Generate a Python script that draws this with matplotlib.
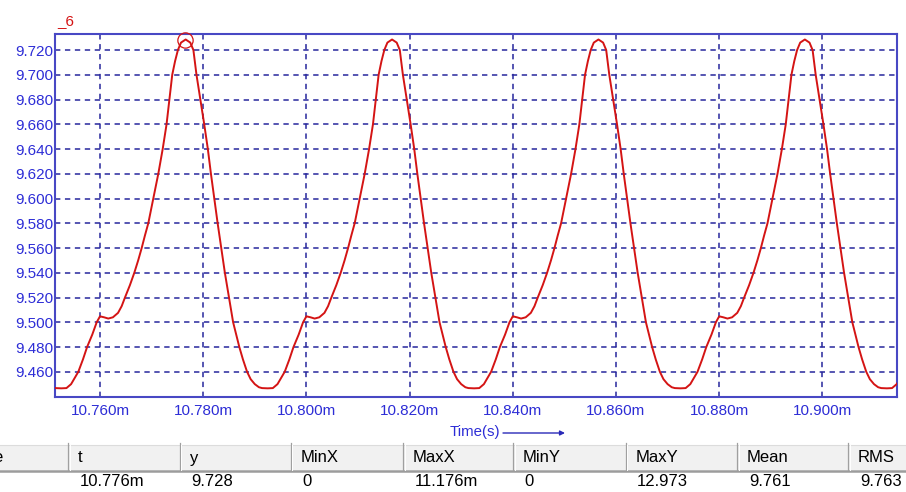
import numpy as np
import matplotlib.pyplot as plt
from matplotlib.patches import Rectangle

# one period of the trace, phase in us from the small shoulder
phase_us = [-8.6, -7.5, -6.5, -5.6, -4.9, -4.2, -3.3, -2.5, -1.5, -0.64,
            0.0, 0.8, 1.6, 2.5, 3.5, 4.2, 4.84, 5.8, 6.65, 7.4,
            8.08, 8.7, 9.36, 10.33, 11.30, 12.15, 12.9, 13.45, 14.0, 14.55,
            15.1, 15.7, 16.6, 17.5, 18.1, 18.7, 19.45, 20.2, 20.9, 21.5,
            22.15, 22.8, 23.5, 24.2, 25.0, 25.8, 26.4, 27.0, 27.7, 28.5,
            29.2, 30.0, 30.8]
phase_val = [9.4468, 9.4466, 9.4468, 9.450, 9.455, 9.460, 9.470, 9.480, 9.490, 9.500,
             9.5048, 9.504, 9.503, 9.504, 9.5076, 9.513, 9.520, 9.530, 9.540, 9.550,
             9.560, 9.570, 9.580, 9.600, 9.620, 9.640, 9.660, 9.680, 9.700, 9.711,
             9.720, 9.726, 9.7285, 9.726, 9.720, 9.700, 9.680, 9.660, 9.640, 9.620,
             9.600, 9.580, 9.560, 9.540, 9.520, 9.500, 9.490, 9.480, 9.470, 9.460,
             9.454, 9.450, 9.4475]
# shoulder times of each period (ms)
shoulder_ms = [10.720, 10.760, 10.800, 10.840, 10.880, 10.920]

cursor_t = 10.7765
cursor_y = 9.728
trace_name = "_6"

y_ticks = [9.460, 9.480, 9.500, 9.520, 9.540, 9.560, 9.580, 9.600, 9.620,
           9.640, 9.660, 9.680, 9.700, 9.720]
x_ticks = [10.760, 10.780, 10.800, 10.820, 10.840, 10.860, 10.880, 10.900]

table_head = ["t", "y", "MinX", "MaxX", "MinY", "MaxY", "Mean", "RMS"]
table_vals = ["10.776m", "9.728", "0", "11.176m", "0", "12.973", "9.761", "9.763"]

W, H = 906, 492
blue_txt = '#2d2dd6'
blue_ax = '#4848c4'
blue_grid = '#27279c'
red = '#d41414'

t = np.concatenate([s + np.array(phase_us) / 1000.0 for s in shoulder_ms])
v = np.concatenate([np.array(phase_val) for s in shoulder_ms])

plt.rcParams['font.family'] = ['Liberation Sans', 'DejaVu Sans']
fig = plt.figure(figsize=(W / 100, H / 100), dpi=100)

# pixel-space overlay for the table and the axis caption
bg = fig.add_axes([0, 0, 1, 1])
bg.set_xlim(0, W)
bg.set_ylim(H, 0)
bg.axis('off')

bg.add_patch(Rectangle((0, 445), W, 25, facecolor='#f1f1f1', edgecolor='none'))
bg.plot([0, W], [445, 445], color='#dcdcdc', lw=0.8)
bg.plot([0, W], [470.5, 470.5], color='#9c9c9c', lw=1.8)
sep_x = [68.3, 180, 291, 403.3, 513.3, 625.7, 737.3, 848.3]
for i, sx in enumerate(sep_x):
    bg.plot([sx, sx], [443, 470], color='#a0a0a0', lw=0.9)
    bg.plot([sx + 1.2, sx + 1.2], [445, 470], color='white', lw=0.7)
    bg.text(sx + 9.5, 458, table_head[i], fontsize=12, color='black',
            ha='left', va='center')
    bg.text(sx + 11.5, 481, table_vals[i], fontsize=12, color='black',
            ha='left', va='center')
# header of the first column, scrolled almost out of view
bg.text(2.5, 458, "e", fontsize=12, color='black', ha='right', va='center')

bg.text(450, 432, "Time(s)", fontsize=10.8, color=blue_txt, ha='left', va='center')
bg.annotate("", xy=(565, 433), xytext=(503, 433),
            arrowprops=dict(arrowstyle='-|>', color='#2a2ab8', lw=1.0,
                            mutation_scale=7, shrinkA=0, shrinkB=0))

ax = fig.add_axes([55 / W, (H - 397) / H, (896.7 - 55) / W, (397 - 34.3) / H])
ax.plot(t, v, color=red, lw=1.4, zorder=3)
ax.plot([cursor_t], [cursor_y], marker='o', ms=11, mfc='none', mec=red,
        mew=0.9, clip_on=False, zorder=4)

ax.set_xlim(10.75128, 10.91440)
ax.set_ylim(9.4396, 9.7327)
ax.set_xticks(x_ticks)
ax.set_xticklabels(["%.3fm" % x for x in x_ticks])
ax.set_yticks(y_ticks)
ax.set_yticklabels(["%.3f" % y for y in y_ticks])
ax.tick_params(axis='both', colors=blue_txt, labelsize=11, length=0)
ax.tick_params(axis='y', pad=1.5)
ax.tick_params(axis='x', pad=5)
ax.grid(True, color=blue_grid, lw=1.1, linestyle=(0, (3.5, 3)))
for sp in ax.spines.values():
    sp.set_color(blue_ax)
    sp.set_linewidth(1.5)

fig.text(57 / W, 1 - 21 / H, trace_name, color=red, fontsize=11,
         ha='left', va='center')

fig.savefig("out.png", dpi=100)
